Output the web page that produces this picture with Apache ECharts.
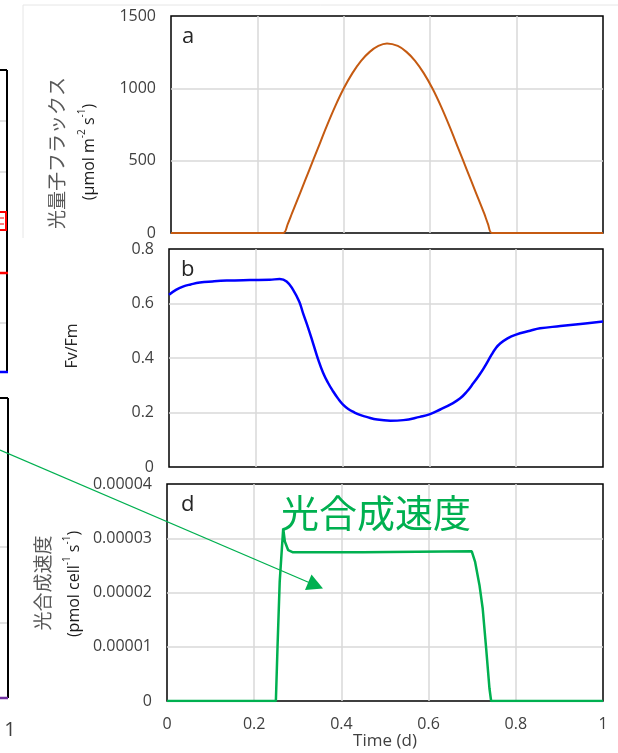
<!DOCTYPE html>
<html>
<head>
<meta charset="utf-8">
<script src="https://cdn.jsdelivr.net/npm/echarts@6/dist/echarts.min.js"></script>
<style>
  html, body { margin: 0; padding: 0; background: #fff; }
  #chart { width: 618px; height: 753px; }
</style>
</head>
<body>
<div id="chart"></div>
<script>
// Time of day (fraction of a day) shared by all three panels
const timeTicks = [0, 0.2, 0.4, 0.6, 0.8, 1];
const timeTickLabels = ['0', '0.2', '0.4', '0.6', '0.8', '1'];

// Panel a: photon flux density (µmol m-2 s-1)
const fluxTicks = [0, 500, 1000, 1500];
const fluxTickLabels = ['0', '500', '1000', '1500'];
const fluxTime = [0, 0.26, 0.27, 0.28, 0.30, 0.32, 0.34, 0.36, 0.38, 0.40, 0.42, 0.44, 0.46, 0.48, 0.50,
                  0.525, 0.545, 0.565, 0.585, 0.605, 0.625, 0.645, 0.665, 0.685, 0.705, 0.725, 0.734, 0.743, 1];
const fluxValue = [0, 0, 60, 135, 285, 435, 585, 735, 875, 1000, 1105, 1190, 1252, 1293, 1310,
                   1293, 1252, 1190, 1105, 1000, 875, 735, 585, 435, 285, 135, 60, 0, 0];

// Panel b: Fv/Fm
const fvfmTicks = [0, 0.2, 0.4, 0.6, 0.8];
const fvfmTickLabels = ['0', '0.2', '0.4', '0.6', '0.8'];
const fvfmTime = [0, 0.016, 0.032, 0.05, 0.071, 0.1, 0.133, 0.186, 0.232, 0.255, 0.271, 0.286, 0.300,
                  0.309, 0.321, 0.332, 0.344, 0.355, 0.366, 0.378, 0.39, 0.401, 0.413, 0.425, 0.44, 0.455,
                  0.48, 0.51, 0.54, 0.578, 0.60, 0.625, 0.65, 0.671, 0.687, 0.701, 0.713, 0.725, 0.744,
                  0.753, 0.763, 0.78, 0.798, 0.832, 0.855, 0.902, 0.948, 1];
const fvfmValue = [0.632, 0.650, 0.662, 0.670, 0.677, 0.681, 0.684, 0.686, 0.687, 0.690, 0.681, 0.650, 0.607,
                   0.564, 0.509, 0.454, 0.393, 0.346, 0.310, 0.278, 0.250, 0.229, 0.213, 0.202, 0.191, 0.184,
                   0.174, 0.170, 0.172, 0.184, 0.193, 0.211, 0.231, 0.252, 0.278, 0.307, 0.333, 0.362, 0.414,
                   0.436, 0.453, 0.472, 0.485, 0.500, 0.509, 0.517, 0.525, 0.534];

// Panel d: photosynthetic rate (pmol cell-1 s-1)
const rateTicks = [0, 0.00001, 0.00002, 0.00003, 0.00004];
const rateTickLabels = ['0', '0.00001', '0.00002', '0.00003', '0.00004'];
const rateTime = [0, 0.2497, 0.2535, 0.2585, 0.2665, 0.2703, 0.278, 0.289, 0.449, 0.451, 0.699,
                  0.7065, 0.7166, 0.724, 0.732, 0.7396, 0.7434, 1];
const rateValue = [0, 0, 0.0000100, 0.0000220, 0.0000318, 0.0000294, 0.0000278, 0.0000274, 0.0000274,
                   0.0000276, 0.0000276, 0.0000257, 0.0000214, 0.0000171, 0.0000097, 0.0000023, 0, 0];

const FONT = '"Open Sans", "Noto Sans", sans-serif';
const JP_FONT = '"Noto Sans CJK JP", "Noto Sans", sans-serif';
const TICK_COLOR = '#404040';
const GRID_LINE = '#d9d9d9';

function pairs(xs, ys) { return xs.map((x, i) => [x, ys[i]]); }

function labelFor(ticks, labels) {
  return function (v) {
    let best = 0;
    ticks.forEach((t, i) => { if (Math.abs(t - v) < Math.abs(ticks[best] - v)) best = i; });
    return labels[best];
  };
}

function valueAxis(ticks, labels, gridIndex, showLabel, extra) {
  return Object.assign({
    type: 'value',
    gridIndex: gridIndex,
    min: ticks[0],
    max: ticks[ticks.length - 1],
    interval: ticks[1] - ticks[0],
    axisLine: { show: false },
    axisTick: { show: false },
    axisLabel: {
      show: showLabel,
      formatter: labelFor(ticks, labels),
      color: TICK_COLOR,
      fontFamily: FONT,
      fontSize: 16,
      margin: 15
    },
    splitLine: {
      show: true,
      showMinLine: false,
      showMaxLine: false,
      lineStyle: { color: GRID_LINE, width: 1.5 }
    }
  }, extra || {});
}

function panelGrid(left, top, width, height) {
  return {
    left: left, top: top, width: width, height: height,
    show: true,
    backgroundColor: '#fff',
    borderColor: '#000',
    borderWidth: 1.5,
    containLabel: false
  };
}

function lineSeries(idx, data, color, width, smooth) {
  return {
    type: 'line',
    xAxisIndex: idx,
    yAxisIndex: idx,
    data: data,
    showSymbol: false,
    symbol: 'none',
    smooth: smooth,
    silent: true,
    lineStyle: { color: color, width: width },
    itemStyle: { color: color }
  };
}

function vText(x, y, text, size, color, font, rich) {
  const style = {
    text: text, fontSize: size, fontFamily: font, fill: color,
    align: 'center', verticalAlign: 'middle'
  };
  if (rich) style.rich = rich;
  return { type: 'text', x: x, y: y, rotation: Math.PI / 2, style: style, z: 10 };
}

function unitRich(size) {
  return {
    u: { fontSize: size, fontFamily: FONT, fill: '#1a1a1a', lineHeight: size + 4, verticalAlign: 'bottom' },
    s: { fontSize: Math.round(size * 0.62), fontFamily: FONT, fill: '#1a1a1a', lineHeight: size + 4, verticalAlign: 'top' }
  };
}

function seg(x1, y1, x2, y2, color, width) {
  return { type: 'line', shape: { x1: x1, y1: y1, x2: x2, y2: y2 },
           style: { stroke: color, lineWidth: width }, silent: true, z: 5 };
}

const green = '#00B050';

const graphic = [
  // frame of the chart area behind panel a
  seg(23, 5, 618, 5, '#e6e6e6', 1),
  seg(23, 5, 23, 238, '#e6e6e6', 1),

  // edge of the neighbouring figure on the left
  seg(0, 70, 7, 70, '#000', 2),
  seg(7, 70, 7, 372, '#000', 2),
  seg(0, 121, 6, 121, GRID_LINE, 1.5),
  seg(0, 172, 6, 172, GRID_LINE, 1.5),
  seg(0, 323, 6, 323, GRID_LINE, 1.5),
  { type: 'rect', shape: { x: -2, y: 212, width: 8, height: 18 },
    style: { stroke: '#ff0000', lineWidth: 2, fill: 'none' }, z: 6 },
  seg(0, 218, 4, 218, '#ff0000', 1),
  seg(0, 224, 4, 224, '#ff0000', 1),
  seg(0, 273, 8, 273, '#ff0000', 2.5),
  seg(0, 372, 8, 372, '#0000ff', 2.5),
  seg(0, 398, 8, 398, '#000', 2),
  seg(8, 398, 8, 698, '#000', 2),
  seg(0, 547, 7, 547, GRID_LINE, 1.5),
  seg(0, 623, 7, 623, GRID_LINE, 1.5),
  seg(0, 698, 8, 698, '#7030A0', 2.5),
  { type: 'text', x: 10, y: 730,
    style: { text: '1', fontSize: 20, fontFamily: FONT, fill: TICK_COLOR, align: 'center', verticalAlign: 'middle' } },

  // panel letters
  { type: 'text', x: 182, y: 37, style: { text: 'a', fontSize: 22, fontFamily: FONT, fill: '#262626', align: 'left', verticalAlign: 'middle' }, z: 10 },
  { type: 'text', x: 181, y: 270, style: { text: 'b', fontSize: 22, fontFamily: FONT, fill: '#262626', align: 'left', verticalAlign: 'middle' }, z: 10 },
  { type: 'text', x: 181, y: 505, style: { text: 'd', fontSize: 22, fontFamily: FONT, fill: '#262626', align: 'left', verticalAlign: 'middle' }, z: 10 },

  // y-axis titles
  vText(57, 153, '光量子フラックス', 19, '#595959', JP_FONT),
  vText(87, 152, '{u|(µmol m}{s|-2}{u| s}{s|-1}{u|)}', 16, '#1a1a1a', FONT, unitRich(16)),
  vText(72, 346, 'Fv/Fm', 16, '#262626', FONT),
  vText(43, 583, '光合成速度', 19, '#595959', JP_FONT),
  vText(72, 584, '{u|(pmol cell}{s|-1}{u| s}{s|-1}{u|)}', 16, '#1a1a1a', FONT, unitRich(16)),

  // annotation
  { type: 'text', x: 376, y: 513,
    style: { text: '光合成速度', fontSize: 38, fontFamily: JP_FONT, fill: green, align: 'center', verticalAlign: 'middle' }, z: 20 },
  seg(0, 450, 309, 582.5, green, 1.3),
  { type: 'polygon', shape: { points: [[323, 588.5], [305, 590], [311.5, 574.5]] },
    style: { fill: green }, silent: true, z: 20 }
];

const chart = echarts.init(document.getElementById('chart'), null, { renderer: 'canvas' });

chart.setOption({
  animation: false,
  backgroundColor: '#fff',
  grid: [
    panelGrid(171, 16, 432, 217),
    panelGrid(169, 249, 434, 218),
    panelGrid(167, 484, 436, 217)
  ],
  xAxis: [
    valueAxis(timeTicks, timeTickLabels, 0, false),
    valueAxis(timeTicks, timeTickLabels, 1, false),
    valueAxis(timeTicks, timeTickLabels, 2, true, {
      name: 'Time (d)',
      nameLocation: 'middle',
      nameGap: 32,
      nameTextStyle: { fontSize: 17, fontFamily: FONT, color: TICK_COLOR }
    })
  ],
  yAxis: [
    valueAxis(fluxTicks, fluxTickLabels, 0, true),
    valueAxis(fvfmTicks, fvfmTickLabels, 1, true),
    valueAxis(rateTicks, rateTickLabels, 2, true)
  ],
  series: [
    lineSeries(0, pairs(fluxTime, fluxValue), '#C55A11', 2, 0.3),
    lineSeries(1, pairs(fvfmTime, fvfmValue), '#0000FF', 2.5, 0.45),
    lineSeries(2, pairs(rateTime, rateValue), green, 2.5, false)
  ],
  graphic: graphic
});
</script>
</body>
</html>
